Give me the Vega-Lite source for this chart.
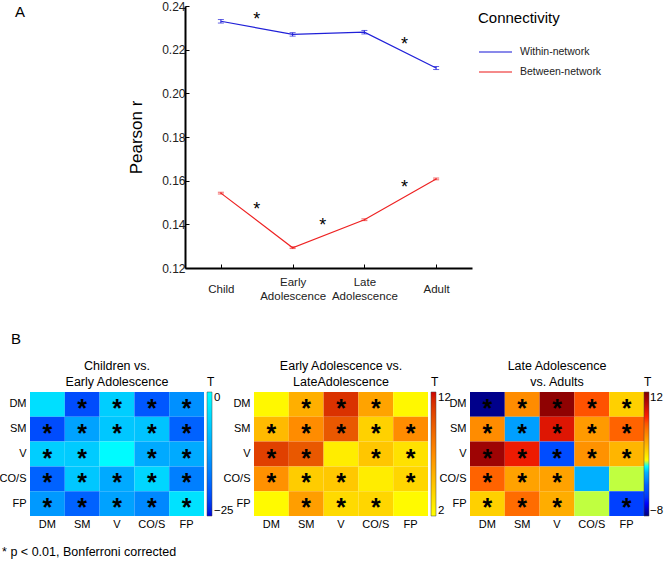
{
  "$schema": "https://vega.github.io/schema/vega-lite/v6.json",
  "background": "white",
  "padding": {"left": -1, "top": 0, "right": 0, "bottom": 4},
  "config": {
    "font": "Liberation Sans",
    "view": {"stroke": null},
    "axis": {"labelFont": "Liberation Sans", "titleFont": "Liberation Sans"},
    "legend": {"labelFont": "Liberation Sans", "titleFont": "Liberation Sans"},
    "title": {"font": "Liberation Sans"}
  },
  "datasets": {
    "lines": [
      {"stage": 1, "conn": "Within-network", "r": 0.2330, "lo": 0.2322, "hi": 0.2338},
      {"stage": 2, "conn": "Within-network", "r": 0.2270, "lo": 0.2262, "hi": 0.2278},
      {"stage": 3, "conn": "Within-network", "r": 0.2280, "lo": 0.2272, "hi": 0.2288},
      {"stage": 4, "conn": "Within-network", "r": 0.2116, "lo": 0.2109, "hi": 0.2123},
      {"stage": 1, "conn": "Between-network", "r": 0.1543, "lo": 0.1539, "hi": 0.1547},
      {"stage": 2, "conn": "Between-network", "r": 0.1293, "lo": 0.1289, "hi": 0.1297},
      {"stage": 3, "conn": "Between-network", "r": 0.1421, "lo": 0.1417, "hi": 0.1425},
      {"stage": 4, "conn": "Between-network", "r": 0.1608, "lo": 0.1604, "hi": 0.1612}
    ],
    "stars": [
      {"x": 1.5, "y": 0.2354, "label": "*"},
      {"x": 3.56, "y": 0.2240, "label": "*"},
      {"x": 1.5, "y": 0.1484, "label": "*"},
      {"x": 2.42, "y": 0.1411, "label": "*"},
      {"x": 3.56, "y": 0.1585, "label": "*"}
    ],
    "h1": [
      {"row": "DM", "col": "DM", "t": -4.4, "star": ""},
      {"row": "DM", "col": "SM", "t": -21, "star": "*"},
      {"row": "DM", "col": "V", "t": -6.5, "star": "*"},
      {"row": "DM", "col": "CO/S", "t": -20, "star": "*"},
      {"row": "DM", "col": "FP", "t": -14, "star": "*"},
      {"row": "SM", "col": "DM", "t": -21, "star": "*"},
      {"row": "SM", "col": "SM", "t": -12, "star": "*"},
      {"row": "SM", "col": "V", "t": -7.5, "star": "*"},
      {"row": "SM", "col": "CO/S", "t": -8, "star": "*"},
      {"row": "SM", "col": "FP", "t": -19, "star": "*"},
      {"row": "V", "col": "DM", "t": -6.5, "star": "*"},
      {"row": "V", "col": "SM", "t": -7, "star": "*"},
      {"row": "V", "col": "V", "t": -0.5, "star": ""},
      {"row": "V", "col": "CO/S", "t": -11, "star": "*"},
      {"row": "V", "col": "FP", "t": -11, "star": "*"},
      {"row": "CO/S", "col": "DM", "t": -19, "star": "*"},
      {"row": "CO/S", "col": "SM", "t": -7.5, "star": "*"},
      {"row": "CO/S", "col": "V", "t": -11, "star": "*"},
      {"row": "CO/S", "col": "CO/S", "t": -5.5, "star": "*"},
      {"row": "CO/S", "col": "FP", "t": -16, "star": "*"},
      {"row": "FP", "col": "DM", "t": -13, "star": "*"},
      {"row": "FP", "col": "SM", "t": -19, "star": "*"},
      {"row": "FP", "col": "V", "t": -12, "star": "*"},
      {"row": "FP", "col": "CO/S", "t": -15, "star": "*"},
      {"row": "FP", "col": "FP", "t": -4, "star": "*"}
    ],
    "h2": [
      {"row": "DM", "col": "DM", "t": 2.3, "star": ""},
      {"row": "DM", "col": "SM", "t": 5.5, "star": "*"},
      {"row": "DM", "col": "V", "t": 11, "star": "*"},
      {"row": "DM", "col": "CO/S", "t": 6, "star": "*"},
      {"row": "DM", "col": "FP", "t": 2.3, "star": ""},
      {"row": "SM", "col": "DM", "t": 5, "star": "*"},
      {"row": "SM", "col": "SM", "t": 7, "star": "*"},
      {"row": "SM", "col": "V", "t": 9.5, "star": "*"},
      {"row": "SM", "col": "CO/S", "t": 4, "star": "*"},
      {"row": "SM", "col": "FP", "t": 7, "star": "*"},
      {"row": "V", "col": "DM", "t": 10.5, "star": "*"},
      {"row": "V", "col": "SM", "t": 9.5, "star": "*"},
      {"row": "V", "col": "V", "t": 2.8, "star": ""},
      {"row": "V", "col": "CO/S", "t": 4.5, "star": "*"},
      {"row": "V", "col": "FP", "t": 3.3, "star": "*"},
      {"row": "CO/S", "col": "DM", "t": 6.8, "star": "*"},
      {"row": "CO/S", "col": "SM", "t": 4.2, "star": "*"},
      {"row": "CO/S", "col": "V", "t": 4.4, "star": "*"},
      {"row": "CO/S", "col": "CO/S", "t": 2.8, "star": ""},
      {"row": "CO/S", "col": "FP", "t": 3.8, "star": "*"},
      {"row": "FP", "col": "DM", "t": 2.2, "star": ""},
      {"row": "FP", "col": "SM", "t": 6.2, "star": "*"},
      {"row": "FP", "col": "V", "t": 3.6, "star": "*"},
      {"row": "FP", "col": "CO/S", "t": 3.8, "star": "*"},
      {"row": "FP", "col": "FP", "t": 2.2, "star": ""}
    ],
    "h3": [
      {"row": "DM", "col": "DM", "t": -7.8, "star": "*"},
      {"row": "DM", "col": "SM", "t": 5, "star": "*"},
      {"row": "DM", "col": "V", "t": 11.5, "star": "*"},
      {"row": "DM", "col": "CO/S", "t": 7, "star": "*"},
      {"row": "DM", "col": "FP", "t": 2.5, "star": "*"},
      {"row": "SM", "col": "DM", "t": 5, "star": "*"},
      {"row": "SM", "col": "SM", "t": -1.5, "star": "*"},
      {"row": "SM", "col": "V", "t": 9, "star": "*"},
      {"row": "SM", "col": "CO/S", "t": 4.5, "star": "*"},
      {"row": "SM", "col": "FP", "t": 6.5, "star": "*"},
      {"row": "V", "col": "DM", "t": 11, "star": "*"},
      {"row": "V", "col": "SM", "t": 8.5, "star": "*"},
      {"row": "V", "col": "V", "t": -4, "star": "*"},
      {"row": "V", "col": "CO/S", "t": 4.8, "star": "*"},
      {"row": "V", "col": "FP", "t": 3.5, "star": "*"},
      {"row": "CO/S", "col": "DM", "t": 6.5, "star": "*"},
      {"row": "CO/S", "col": "SM", "t": 4.2, "star": "*"},
      {"row": "CO/S", "col": "V", "t": 4.2, "star": "*"},
      {"row": "CO/S", "col": "CO/S", "t": -1, "star": ""},
      {"row": "CO/S", "col": "FP", "t": 0.5, "star": ""},
      {"row": "FP", "col": "DM", "t": 2.5, "star": "*"},
      {"row": "FP", "col": "SM", "t": 6.2, "star": "*"},
      {"row": "FP", "col": "V", "t": 3.8, "star": "*"},
      {"row": "FP", "col": "CO/S", "t": 0.5, "star": ""},
      {"row": "FP", "col": "FP", "t": -4.5, "star": "*"}
    ]
  },
  "title": {"text": "* p < 0.01, Bonferroni corrected", "orient": "bottom", "anchor": "start", "frame": "bounds", "fontSize": 12.5, "fontWeight": "normal", "color": "black", "offset": 17, "dx": 3},
  "spacing": 29,
  "resolve": {"scale": {"color": "independent"}, "legend": {"color": "independent"}},
  "vconcat": [
    {
      "width": 442,
      "height": 262,
      "title": {"text": "A", "anchor": "start", "frame": "group", "dx": -15, "offset": -20, "fontSize": 15, "fontWeight": "normal", "color": "black"},
      "layer": [
        {
          "data": {"name": "lines"},
          "mark": {"type": "line", "strokeWidth": 1.2},
          "encoding": {
            "x": {"field": "stage", "type": "quantitative", "scale": {"domain": [0.5, 4.5], "range": [155, 442]}, "title": null,
              "axis": {"grid": false, "values": [1, 2, 3, 4],
                "labelExpr": "datum.value == 1 ? 'Child' : datum.value == 2 ? ['Early', 'Adolescence'] : datum.value == 3 ? ['Late', 'Adolescence'] : 'Adult'",
                "domainColor": "black", "domainWidth": 2, "tickColor": "black", "tickSize": -4,
                "labelFontSize": 11.5, "labelColor": "#222", "labelBaseline": "top", "labelLineHeight": 14,
                "labelPadding": {"condition": {"test": "datum.value == 1 || datum.value == 4", "value": 19}, "value": 12}}},
            "y": {"field": "r", "type": "quantitative", "scale": {"domain": [0.12, 0.24]}, "title": "Pearson r",
              "axis": {"grid": false, "values": [0.12, 0.14, 0.16, 0.18, 0.2, 0.22, 0.24], "format": ".2f", "offset": -155,
                "domainColor": "black", "domainWidth": 2, "tickColor": "black", "tickSize": -4,
                "labelFontSize": 12, "labelColor": "#222", "labelPadding": 4,
                "titleFontSize": 17, "titleFontWeight": "normal", "titleColor": "black", "titlePadding": 16}},
            "color": {"field": "conn", "type": "nominal",
              "scale": {"domain": ["Within-network", "Between-network"], "range": ["#2020d8", "#ee2222"]},
              "legend": {"title": "Connectivity", "orient": "right", "offset": 1, "padding": 5, "titleFontSize": 15, "titleFontWeight": "normal", "titleColor": "black", "titlePadding": 19,
                "labelFontSize": 10.5, "labelColor": "#222", "symbolType": "M-1,0L4.5,0", "symbolStrokeWidth": 1.5, "symbolSize": 144, "symbolFillColor": "transparent", "labelOffset": 28, "rowPadding": 7}}
          }
        },
        {
          "data": {"name": "lines"},
          "mark": {"type": "errorbar", "ticks": {"size": 6}, "thickness": 1},
          "encoding": {
            "x": {"field": "stage", "type": "quantitative", "title": null},
            "y": {"field": "lo", "type": "quantitative", "title": "Pearson r"},
            "y2": {"field": "hi"},
            "color": {"field": "conn", "type": "nominal"}
          }
        },
        {
          "data": {"name": "stars"},
          "mark": {"type": "text", "fontSize": 18, "baseline": "middle", "dy": 4, "color": "black"},
          "encoding": {
            "x": {"field": "x", "type": "quantitative", "title": null},
            "y": {"field": "y", "type": "quantitative", "title": "Pearson r"},
            "text": {"field": "label"}
          }
        }
      ]
    },
    {
      "title": {"text": "B", "anchor": "start", "frame": "bounds", "dx": 12, "fontSize": 15, "fontWeight": "normal", "color": "black", "offset": 13},
      "spacing": -11,
      "resolve": {"scale": {"color": "independent"}, "legend": {"color": "independent"}},
      "hconcat": [
        {
          "width": 174, "height": 124,
          "title": {"text": ["Children vs.", "Early Adolescence"], "fontSize": 12.5, "fontWeight": "normal", "color": "black", "lineHeight": 16, "offset": -11},
          "data": {"name": "h1"},
          "encoding": {
            "x": {"field": "col", "type": "nominal", "sort": ["DM", "SM", "V", "CO/S", "FP"], "axis": {"title": null, "labelAngle": 0, "ticks": false, "domain": false, "labelFontSize": 11, "labelPadding": 2, "labelColor": "black"}},
            "y": {"field": "row", "type": "nominal", "sort": ["DM", "SM", "V", "CO/S", "FP"], "axis": {"title": null, "ticks": false, "domain": false, "labelFontSize": 11, "labelPadding": 4, "labelColor": "black"}}
          },
          "layer": [
            {"mark": {"type": "rect"},
             "encoding": {"color": {"field": "t", "type": "quantitative", "scale": {"domain": [-25, 0], "range": ["#0000d8", "#00ffff"]},
               "legend": {"title": "T", "orient": "none", "legendX": 177, "legendY": -15, "direction": "vertical", "gradientLength": 124, "gradientThickness": 5, "values": [-25, 0],
                 "titleFontSize": 12, "titleFontWeight": "normal", "titleColor": "black", "titlePadding": 3, "labelFontSize": 11.5, "labelColor": "black", "labelOffset": 2, "gradientStrokeColor": "#444", "gradientStrokeWidth": 0.5}}}},
            {"mark": {"type": "text", "fontSize": 25, "fontWeight": "bold", "baseline": "middle", "dy": 4.5, "color": "black"},
             "encoding": {"text": {"field": "star"}}}
          ]
        },
        {
          "spacing": -12,
          "resolve": {"scale": {"color": "independent"}, "legend": {"color": "independent"}},
          "hconcat": [
            {
              "width": 174, "height": 124,
              "title": {"text": ["Early Adolescence vs.", "LateAdolescence"], "fontSize": 12.5, "fontWeight": "normal", "color": "black", "lineHeight": 16, "offset": -11},
              "data": {"name": "h2"},
              "encoding": {
                "x": {"field": "col", "type": "nominal", "sort": ["DM", "SM", "V", "CO/S", "FP"], "axis": {"title": null, "labelAngle": 0, "ticks": false, "domain": false, "labelFontSize": 11, "labelPadding": 2, "labelColor": "black"}},
                "y": {"field": "row", "type": "nominal", "sort": ["DM", "SM", "V", "CO/S", "FP"], "axis": {"title": null, "ticks": false, "domain": false, "labelFontSize": 11, "labelPadding": 4, "labelColor": "black"}}
              },
              "layer": [
                {"mark": {"type": "rect"},
                 "encoding": {"color": {"field": "t", "type": "quantitative", "scale": {"domain": [2, 7, 12], "range": ["#ffff00", "#ff8c00", "#d00000"]},
                   "legend": {"title": "T", "orient": "none", "legendX": 177, "legendY": -15, "direction": "vertical", "gradientLength": 124, "gradientThickness": 5, "values": [2, 12],
                     "titleFontSize": 12, "titleFontWeight": "normal", "titleColor": "black", "titlePadding": 3, "labelFontSize": 11.5, "labelColor": "black", "labelOffset": 2, "gradientStrokeColor": "#444", "gradientStrokeWidth": 0.5}}}},
                {"mark": {"type": "text", "fontSize": 25, "fontWeight": "bold", "baseline": "middle", "dy": 4.5, "color": "black"},
                 "encoding": {"text": {"field": "star"}}}
              ]
            },
            {
              "width": 174, "height": 124,
              "title": {"text": ["Late Adolescence", "vs. Adults"], "fontSize": 12.5, "fontWeight": "normal", "color": "black", "lineHeight": 16, "offset": -11},
              "data": {"name": "h3"},
              "encoding": {
                "x": {"field": "col", "type": "nominal", "sort": ["DM", "SM", "V", "CO/S", "FP"], "axis": {"title": null, "labelAngle": 0, "ticks": false, "domain": false, "labelFontSize": 11, "labelPadding": 2, "labelColor": "black"}},
                "y": {"field": "row", "type": "nominal", "sort": ["DM", "SM", "V", "CO/S", "FP"], "axis": {"title": null, "ticks": false, "domain": false, "labelFontSize": 11, "labelPadding": 4, "labelColor": "black"}}
              },
              "layer": [
                {"mark": {"type": "rect"},
                 "encoding": {"color": {"field": "t", "type": "quantitative",
                   "scale": {"domain": [-8, -6, -3, -1, 0, 0.5, 1, 2.5, 5, 8, 12], "range": ["#00007f", "#0000ff", "#0060ff", "#00b0ff", "#00ffff", "#c0ff40", "#ffff00", "#ffd000", "#ff8c00", "#ff2000", "#800000"]},
                   "legend": {"title": "T", "orient": "none", "legendX": 174, "legendY": -15, "direction": "vertical", "gradientLength": 124, "gradientThickness": 5, "values": [-8, 12],
                     "titleFontSize": 12, "titleFontWeight": "normal", "titleColor": "black", "titlePadding": 3, "labelFontSize": 11.5, "labelColor": "black", "labelOffset": 1, "gradientStrokeColor": "#444", "gradientStrokeWidth": 0.5}}}},
                {"mark": {"type": "text", "fontSize": 25, "fontWeight": "bold", "baseline": "middle", "dy": 4.5, "color": "black"},
                 "encoding": {"text": {"field": "star"}}}
              ]
            }
          ]
        }
      ]
    }
  ]
}
